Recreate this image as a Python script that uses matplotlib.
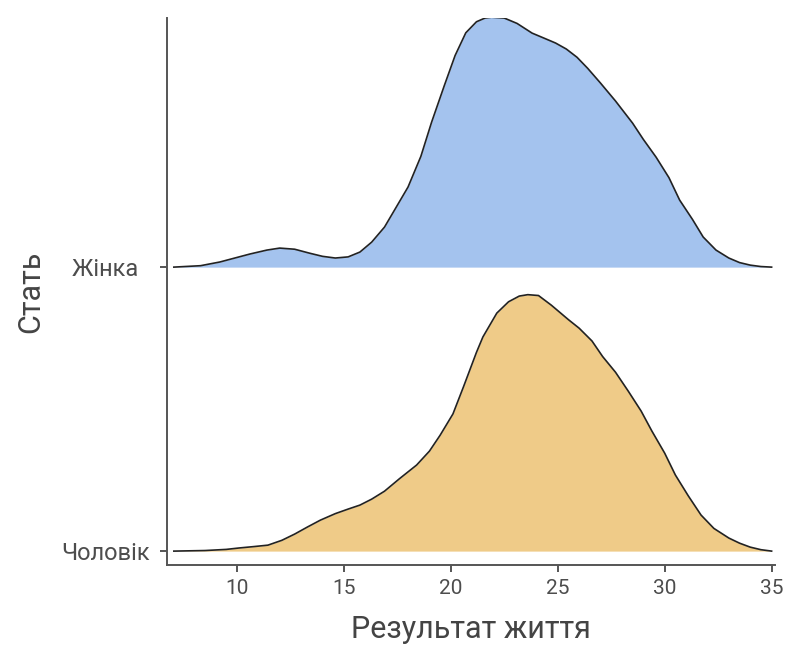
import matplotlib.pyplot as plt

# ridge heights are in "row" units (1 = spacing between categories)
categories = ['Чоловік', 'Жінка  ']

x_female = [7.05, 8.3, 9.2, 10.6, 11.4, 12.0, 12.7, 13.4, 14.0, 14.6, 15.2, 15.75, 16.3,
            16.9, 17.4, 18.0, 18.6, 19.1, 19.7, 20.2, 20.7, 21.2, 21.6, 21.9, 22.5,
            23.1, 23.8, 24.4, 24.9, 25.4, 25.9, 26.4, 27.0, 27.7, 28.5, 29.0, 29.6,
            30.2, 30.7, 31.3, 31.8, 32.4, 33.0, 33.5, 34.0, 34.5, 35.0]
h_female = [0.0, 0.005, 0.018, 0.046, 0.060, 0.067, 0.063, 0.049, 0.038, 0.032, 0.036, 0.053, 0.088,
            0.141, 0.205, 0.282, 0.390, 0.510, 0.640, 0.745, 0.825, 0.864, 0.877, 0.880, 0.877,
            0.858, 0.824, 0.805, 0.789, 0.768, 0.739, 0.700, 0.648, 0.585, 0.507, 0.450, 0.387,
            0.315, 0.236, 0.168, 0.106, 0.060, 0.032, 0.016, 0.007, 0.002, 0.0]

x_male = [7.05, 8.5, 9.5, 10.1, 10.8, 11.45, 12.1, 12.7, 13.3, 13.9, 14.6, 15.2, 15.75,
          16.3, 16.9, 17.6, 18.4, 19.0, 19.5, 20.1, 20.6, 21.2, 21.5, 22.15, 22.7, 23.2,
          23.6, 24.1, 24.7, 25.5, 26.0, 26.6, 27.1, 27.7, 28.3, 28.9, 29.4, 30.0, 30.5,
          31.1, 31.7, 32.3, 33.0, 33.5, 34.0, 34.5, 35.0]
h_male = [0.0, 0.002, 0.006, 0.011, 0.016, 0.021, 0.038, 0.060, 0.085, 0.109, 0.132, 0.148, 0.162,
          0.183, 0.211, 0.255, 0.303, 0.352, 0.408, 0.483, 0.580, 0.700, 0.754, 0.838, 0.878, 0.898,
          0.903, 0.900, 0.866, 0.815, 0.785, 0.740, 0.685, 0.630, 0.563, 0.493, 0.423, 0.345, 0.268,
          0.195, 0.127, 0.080, 0.046, 0.028, 0.014, 0.005, 0.0]

x_ticks = [10, 15, 20, 25, 30, 35]
colors = ['#EFCB88', '#A4C3EE']

plt.rcParams['font.family'] = ['Roboto', 'DejaVu Sans']

fig = plt.figure(figsize=(7.87, 6.59), dpi=100)
ax = fig.add_axes([0.2122, 0.1426, 0.7726, 0.830])

series = [(x_male, h_male), (x_female, h_female)]
for i, (xs, hs) in enumerate(series):
    base = i + 1
    top = [base + h for h in hs]
    ax.fill_between(xs, base, top, color=colors[i], linewidth=0, zorder=2 + i)
    ax.plot(xs, top, color='#222222', linewidth=1.2, zorder=3 + i)

ax.set_xlim(6.73, 35.16)
ax.set_ylim(0.951, 2.877)
ax.set_xticks(x_ticks)
ax.set_yticks([1, 2])
ax.set_yticklabels(categories)

for s in ['top', 'right']:
    ax.spines[s].set_visible(False)
for s in ['left', 'bottom']:
    ax.spines[s].set_color('#555555')
    ax.spines[s].set_linewidth(1.4)

ax.tick_params(axis='both', colors='#555555', length=5, width=1.4,
               labelcolor='#4D4D4D')
ax.tick_params(axis='x', labelsize=15, pad=5)
ax.tick_params(axis='y', labelsize=17, pad=7)
ax.set_xlabel('Результат життя', fontsize=22, color='#444444', labelpad=12)
ax.set_ylabel('Стать', fontsize=22, color='#444444', labelpad=12)

fig.savefig('out.png', dpi=100)
